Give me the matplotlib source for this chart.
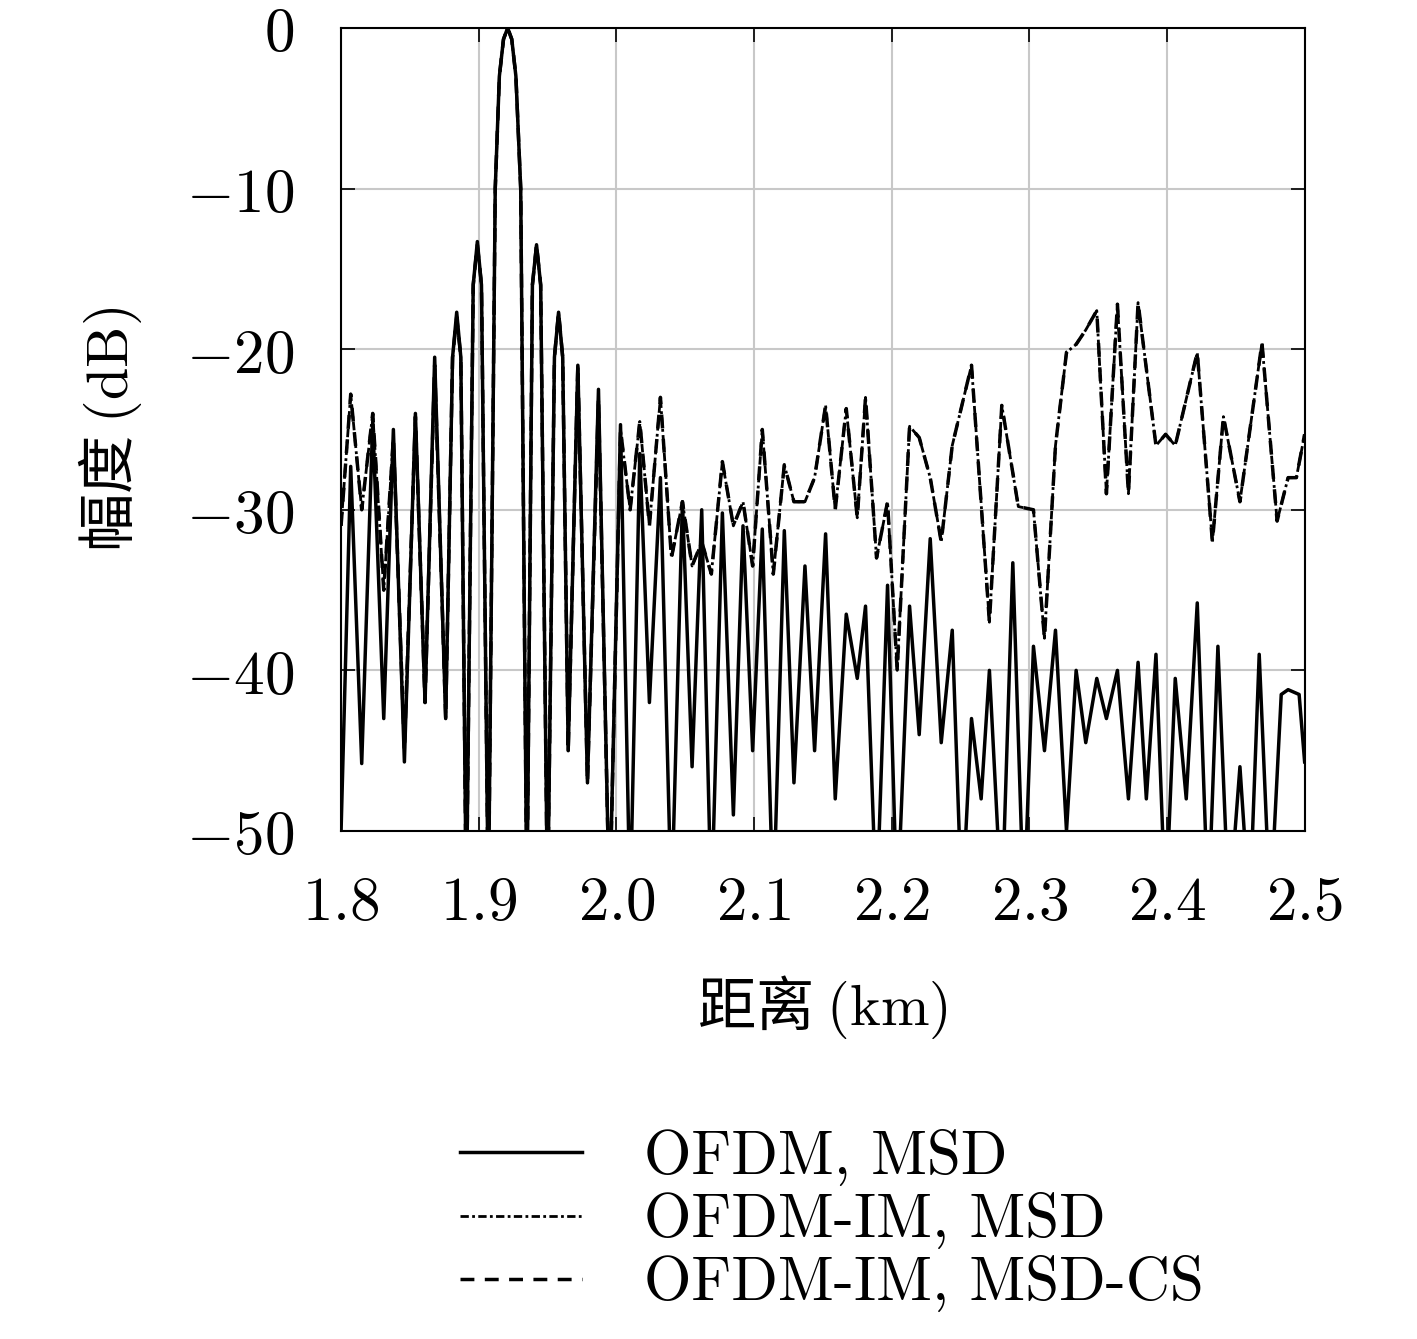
import matplotlib
matplotlib.use("Agg")
from matplotlib import pyplot as plt

plt.rcParams['mathtext.fontset'] = 'cm'
plt.rcParams['font.family'] = ['DejaVu Serif']

# OFDM, MSD (peaks / nulls)
x_msd = [1.800, 1.807, 1.815, 1.823, 1.831, 1.838, 1.846, 1.854, 1.861, 1.868, 1.876, 1.881, 1.884, 1.887, 1.891,
         1.896, 1.899, 1.902, 1.907, 1.912, 1.915, 1.918, 1.921, 1.924, 1.927, 1.9305, 1.935, 1.939, 1.942, 1.945, 1.950,
         1.955, 1.958, 1.961, 1.965, 1.972, 1.979, 1.987, 1.995, 2.003,
         2.010, 2.017, 2.024, 2.032, 2.040, 2.048, 2.055, 2.062, 2.069, 2.077, 2.085, 2.092, 2.099,
         2.106, 2.114, 2.122, 2.129, 2.137, 2.144, 2.152, 2.159, 2.167, 2.175, 2.181, 2.189, 2.197,
         2.204, 2.213, 2.220, 2.228, 2.236, 2.244, 2.251, 2.258, 2.265, 2.271, 2.280, 2.288, 2.296,
         2.303, 2.311, 2.319, 2.327, 2.334, 2.341, 2.349, 2.356, 2.364, 2.372, 2.379, 2.385, 2.392,
         2.399, 2.406, 2.414, 2.422, 2.430, 2.437, 2.445, 2.453, 2.460, 2.467, 2.475, 2.483, 2.488,
         2.496, 2.500]
y_msd = [-50, -27.3, -45.8, -24.5, -43, -25, -45.7, -24, -42, -20.5, -43, -20.5, -17.7, -20.5, -55,
         -16, -13.3, -16, -55, -10, -3, -0.7, 0, -0.7, -3, -10, -55, -16, -13.5, -16, -55,
         -20.5, -17.7, -20.5, -45, -21, -47, -22.5, -55, -24.7,
         -55, -26.5, -42, -28, -55, -29.5, -46, -30, -55, -30.2, -49, -31, -45,
         -31.2, -55, -31.3, -47, -33.5, -45, -31.5, -48, -36.5, -40.5, -36, -55, -34.7,
         -55, -36, -44, -31.8, -44.5, -37.5, -55, -43, -48, -40, -55, -33.3, -55,
         -38.5, -45, -37.5, -50, -40, -44.5, -40.5, -43, -40, -48, -39.5, -48, -39,
         -55, -40.5, -48, -35.8, -55, -38.5, -55, -46, -55, -39, -55, -41.5, -41.2,
         -41.5, -45.7]

# OFDM-IM, MSD and OFDM-IM, MSD-CS (nearly identical)
x_im = [1.800, 1.807, 1.815, 1.823, 1.831, 1.838, 1.846, 1.854, 1.861, 1.868, 1.876, 1.881, 1.884, 1.887, 1.891,
        1.896, 1.899, 1.902, 1.907, 1.912, 1.915, 1.918, 1.921, 1.924, 1.927, 1.9305, 1.935, 1.939, 1.942, 1.945, 1.950,
        1.955, 1.958, 1.961, 1.965, 1.972, 1.979, 1.987, 1.995, 2.003,
        2.010, 2.017, 2.024, 2.032, 2.040, 2.048, 2.055, 2.062, 2.069, 2.077, 2.085, 2.092, 2.099,
        2.106, 2.114, 2.122, 2.129, 2.137, 2.144, 2.152, 2.159, 2.167, 2.175, 2.181, 2.189, 2.197,
        2.204, 2.213, 2.220, 2.228, 2.236, 2.244, 2.258, 2.271, 2.280, 2.292, 2.303, 2.311, 2.319,
        2.327, 2.334, 2.341, 2.349, 2.356, 2.364, 2.372, 2.379, 2.392, 2.399, 2.406, 2.422, 2.433,
        2.441, 2.453, 2.469, 2.480, 2.488, 2.494, 2.500]
y_im = [-31, -22.8, -30, -24, -35, -25.5, -45, -24.2, -42, -21, -43, -20.5, -18, -20.5, -55,
        -16, -13.5, -16, -55, -10, -3, -0.7, 0, -0.7, -3, -10, -55, -16, -13.5, -16, -55,
        -20.5, -17.7, -20.5, -45, -21, -47, -23, -55, -25,
        -30, -24.5, -31, -23, -33, -29.5, -33.5, -32, -34, -27, -31, -29.5, -33.5,
        -25, -34, -27.2, -29.5, -29.5, -28, -23.5, -30, -23.7, -30.5, -23, -33, -29.5,
        -40, -24.8, -25.5, -28, -32, -26, -21, -37, -23.5, -29.8, -30, -38, -26,
        -20.2, -19.7, -18.8, -17.6, -29, -17.2, -29, -17.1, -26, -25.3, -26, -20.2, -32,
        -24.2, -29.5, -19.6, -30.7, -28, -28, -25.3]

fig = plt.figure(figsize=(14.17, 13.39), dpi=100)
ax = fig.add_axes([0.2407, 0.3794, 0.680, 0.5997])
ax.plot(x_msd, y_msd, color="black", lw=2.5, label="OFDM, MSD")
ax.plot(x_im, y_im, color="black", lw=2.0, linestyle=(0, (3, 1.2, 1, 1.2)), label="OFDM-IM, MSD")
ax.plot(x_im, y_im, color="black", lw=2.5, linestyle=(0, (4, 3)), label="OFDM-IM, MSD-CS")

ax.set_xlim(1.8, 2.5)
ax.set_ylim(-50, 0)
xt = [1.8, 1.9, 2.0, 2.1, 2.2, 2.3, 2.4, 2.5]
yt = [-50, -40, -30, -20, -10, 0]
ax.set_xticks(xt)
ax.set_xticklabels(["$%.1f$" % v for v in xt], fontsize=44)
ax.set_yticks(yt)
ax.set_yticklabels(["$%d$" % v for v in yt], fontsize=44)
ax.tick_params(axis="x", direction="in", length=10, width=1.2, top=True, pad=30)
ax.tick_params(axis="y", direction="in", length=10, width=1.2, right=True, pad=34)
ax.grid(True, color="#c8c8c8", lw=1.5)
for s in ax.spines.values():
    s.set_linewidth(1.5)

cjk = ['Noto Sans CJK SC', 'DejaVu Sans']
ax.set_xlabel(r"距离 $(\mathrm{km})$", fontsize=42, family=cjk, labelpad=30)
ax.set_ylabel(r"幅度 $(\mathrm{dB})$", fontsize=42, family=cjk, labelpad=30)

fig.legend(loc="upper center", bbox_to_anchor=(0.587, 0.198), frameon=False,
           handlelength=2.0, handletextpad=1.0, labelspacing=0.1, prop={'family': 'cmr10', 'size': 44})
fig.savefig("out.png")
